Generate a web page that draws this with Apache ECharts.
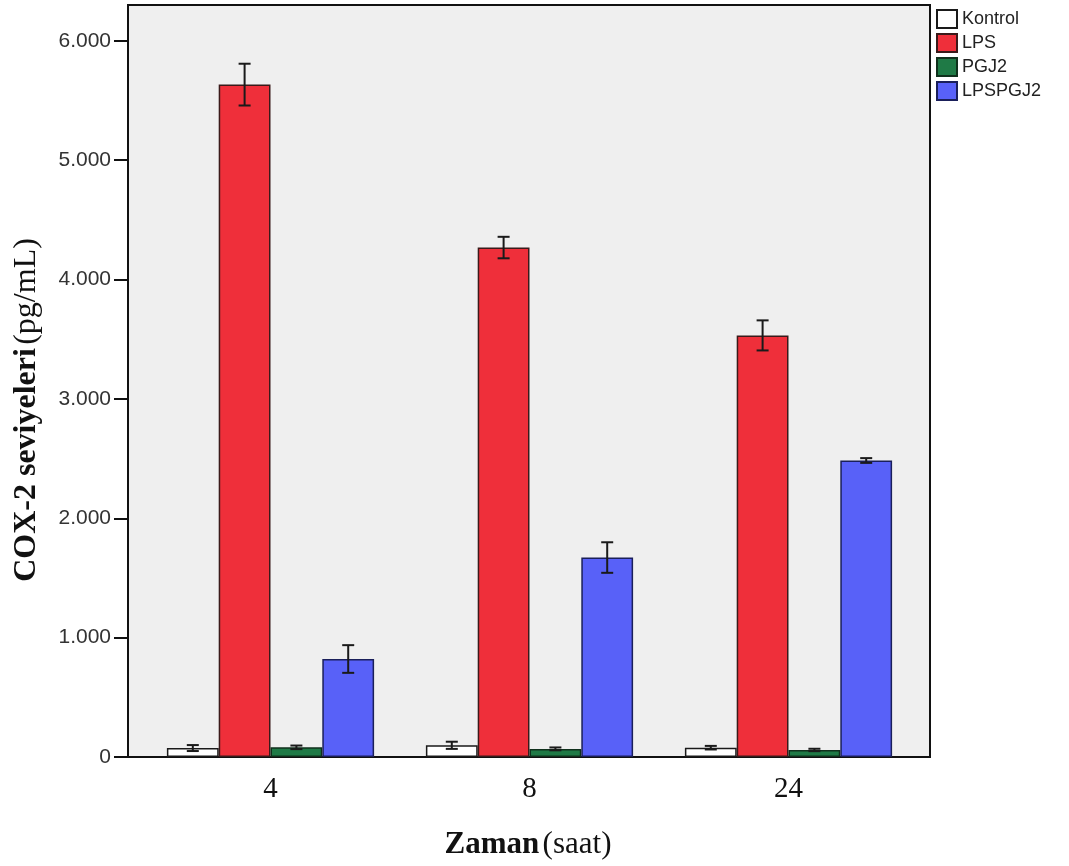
<!DOCTYPE html>
<html>
<head>
<meta charset="utf-8">
<script src="https://cdn.jsdelivr.net/npm/echarts@6/dist/echarts.min.js"></script>
<style>
  html, body { margin: 0; padding: 0; background: #fff; }
  #chart { width: 1069px; height: 866px; }
</style>
</head>
<body>
<div id="chart"></div>
<script>
// time points (hours)
const categories = ['4', '8', '24'];
const groups = ['Kontrol', 'LPS', 'PGJ2', 'LPSPGJ2'];

// COX-2 means (pg/mL) and error half-widths
const kontrol = [75, 98, 78];
const lps = [5633, 4268, 3532];
const pgj2 = [81, 68, 59];
const lpspgj2 = [821, 1671, 2484];

const kontrolErr = [25, 30, 15];
const lpsErr = [175, 90, 126];
const pgj2Err = [15, 12, 10];
const lpspgj2Err = [116, 128, 20];

const yTicks = [0, 1000, 2000, 3000, 4000, 5000, 6000];

const colors = ['#ffffff', '#ef2f3a', '#1f7a46', '#5861f8'];
const borders = ['#1a1a1a', '#3a1a1a', '#10301c', '#1a1f5a'];
const values = [kontrol, lps, pgj2, lpspgj2];
const errors = [kontrolErr, lpsErr, pgj2Err, lpspgj2Err];

const serif = '"Liberation Serif", "DejaVu Serif", serif';
const sans = '"Liberation Sans", Arial, sans-serif';

const chart = echarts.init(document.getElementById('chart'));

const barSeries = groups.map((name, k) => ({
  name,
  type: 'bar',
  data: values[k],
  barGap: 0,
  barCategoryGap: '20%',
  itemStyle: { color: colors[k], borderColor: borders[k], borderWidth: 1.5 },
  z: 2
}));

const errSeries = groups.map((name, k) => ({
  name: 'err-' + name,
  type: 'custom',
  z: 5,
  data: values[k].map((v, i) => [i, v, errors[k][i]]),
  renderItem(params, api) {
    const idx = api.value(0);
    const v = api.value(1);
    const e = api.value(2);
    const band = api.size([1, 0])[0];
    const bw = band * 0.8 / groups.length;
    const x = api.coord([idx, 0])[0] + (k - 1.5) * bw;
    const top = api.coord([idx, v + e])[1];
    const bot = api.coord([idx, Math.max(v - e, 0)])[1];
    const cap = 6;
    const style = { stroke: '#1a1a1a', lineWidth: 2 };
    return {
      type: 'group',
      children: [
        { type: 'line', shape: { x1: x, y1: top, x2: x, y2: bot }, style },
        { type: 'line', shape: { x1: x - cap, y1: top, x2: x + cap, y2: top }, style },
        { type: 'line', shape: { x1: x - cap, y1: bot, x2: x + cap, y2: bot }, style }
      ]
    };
  }
}));

chart.setOption({
  animation: false,
  backgroundColor: '#ffffff',
  grid: { left: 141, right: 151, top: 5, bottom: 109 },
  legend: {
    data: groups,
    orient: 'vertical',
    left: 936,
    top: 9,
    padding: 0,
    itemWidth: 20,
    itemHeight: 18,
    itemGap: 4,
    icon: 'rect',
    textStyle: { fontFamily: sans, fontSize: 18, color: '#222', lineHeight: 20 }
  },
  xAxis: {
    type: 'category',
    data: categories,
    axisLine: { lineStyle: { color: '#111', width: 2 } },
    axisTick: { alignWithLabel: true, length: 12, lineStyle: { color: '#111', width: 2 } },
    axisLabel: { fontFamily: serif, fontSize: 29, color: '#111', margin: 18 }
  },
  yAxis: {
    type: 'value',
    min: 0,
    max: 6300,
    interval: 1000,
    offset: 13,
    splitLine: { show: false },
    axisLine: { show: true, lineStyle: { color: '#111', width: 2 } },
    axisTick: { show: true, length: 14, lineStyle: { color: '#111', width: 2 } },
    axisLabel: {
      showMaxLabel: false,
      fontFamily: sans,
      fontSize: 21,
      color: '#333',
      margin: 17,
      formatter: v => (yTicks.includes(v) ? (v === 0 ? '0' : (v / 1000) + '.000') : '')
    }
  },
  graphic: [
    {
      type: 'rect',
      z: -10,
      shape: { x: 128, y: 5, width: 802, height: 752 },
      style: { fill: '#efefef', stroke: '#111', lineWidth: 2 }
    },
    {
      type: 'text',
      x: 27,
      y: 410,
      rotation: Math.PI / 2,
      style: {
        text: '{b|COX-2 seviyeleri} {r|(pg/mL)}',
        align: 'center',
        verticalAlign: 'middle',
        rich: {
          b: { fontFamily: serif, fontWeight: 'bold', fontSize: 32, fill: '#111' },
          r: { fontFamily: serif, fontSize: 32, fill: '#111' }
        }
      }
    },
    {
      type: 'text',
      x: 528,
      y: 845,
      style: {
        text: '{b|Zaman} {r|(saat)}',
        align: 'center',
        verticalAlign: 'middle',
        rich: {
          b: { fontFamily: serif, fontWeight: 'bold', fontSize: 31, fill: '#111' },
          r: { fontFamily: serif, fontSize: 31, fill: '#111' }
        }
      }
    }
  ],
  series: [...barSeries, ...errSeries]
});

window.addEventListener('resize', () => chart.resize());
</script>
</body>
</html>
